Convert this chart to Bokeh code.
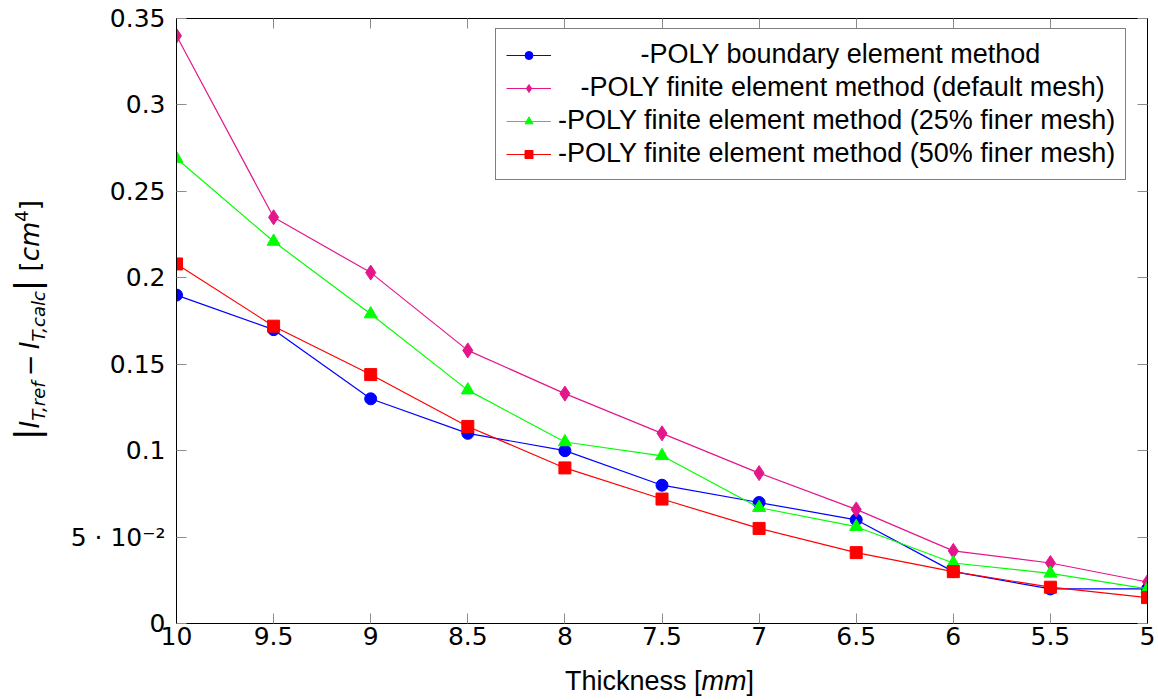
from bokeh.plotting import figure
from bokeh.models import Range1d, FixedTicker, LinearAxis, Legend, LegendItem, Div
from bokeh.layouts import row, column
from bokeh.embed import file_html
from bokeh.resources import INLINE

# ---- data -----------------------------------------------------------------
thickness = [10, 9.5, 9, 8.5, 8, 7.5, 7, 6.5, 6, 5.5, 5]
bem = [0.19, 0.17, 0.13, 0.11, 0.10, 0.08, 0.07, 0.06, 0.03, 0.02, 0.02]
fem_default = [0.34, 0.235, 0.203, 0.158, 0.133, 0.11, 0.087, 0.066, 0.042, 0.035, 0.024]
fem_25 = [0.269, 0.221, 0.179, 0.135, 0.105, 0.097, 0.067, 0.056, 0.035, 0.029, 0.020]
fem_50 = [0.208, 0.172, 0.144, 0.114, 0.090, 0.072, 0.055, 0.041, 0.030, 0.021, 0.015]

series_labels = [
    "-POLY boundary element method",
    "-POLY finite element method (default mesh)",
    "-POLY finite element method (25% finer mesh)",
    "-POLY finite element method (50% finer mesh)",
]

x_ticks = [10, 9.5, 9, 8.5, 8, 7.5, 7, 6.5, 6, 5.5, 5]
x_tick_labels = ["10", "9.5", "9", "8.5", "8", "7.5", "7", "6.5", "6", "5.5", "5"]
y_ticks = [0, 0.05, 0.1, 0.15, 0.2, 0.25, 0.3, 0.35]
y_tick_labels = ["0", "5 · 10⁻²", "0.1", "0.15", "0.2", "0.25", "0.3", "0.35"]

# ---- figure ---------------------------------------------------------------
YLAB_W = 56
PW, PH = 1101, 663
p = figure(width=PW, height=PH, output_backend="svg", toolbar_location=None,
           x_range=Range1d(10, 5), y_range=Range1d(0, 0.35),
           min_border_left=176 - YLAB_W, min_border_right=PW - (176 - YLAB_W) - 971,
           min_border_top=18, min_border_bottom=PH - 18 - 605, margin=0)
p.background_fill_color = "white"
p.border_fill_color = "white"
p.outline_line_color = "black"
p.outline_line_width = 1
p.xgrid.visible = False
p.ygrid.visible = False

TICK_FONT = "DejaVu Sans"
TICK_COLOR = "#8c8c8c"

xa = p.xaxis[0]
xa.ticker = FixedTicker(ticks=x_ticks)
xa.major_label_overrides = {t: l for t, l in zip(x_ticks, x_tick_labels)}
ya = p.yaxis[0]
ya.ticker = FixedTicker(ticks=y_ticks)
ya.major_label_overrides = {t: l for t, l in zip(y_ticks, y_tick_labels)}

for ax in (xa, ya):
    ax.major_tick_in = 10
    ax.major_tick_out = 0
    ax.major_tick_line_color = TICK_COLOR
    ax.minor_tick_line_color = None
    ax.axis_line_color = "black"
    ax.major_label_text_font = TICK_FONT
    ax.major_label_text_font_size = "25px"
    ax.major_label_text_color = "black"
xa.major_label_standoff = 3
ya.major_label_standoff = 11

# mirrored ticks on top and right (no labels)
top = LinearAxis(ticker=FixedTicker(ticks=x_ticks))
right = LinearAxis(ticker=FixedTicker(ticks=y_ticks))
for ax in (top, right):
    ax.major_tick_in = 10
    ax.major_tick_out = 0
    ax.major_tick_line_color = TICK_COLOR
    ax.minor_tick_line_color = None
    ax.axis_line_color = "black"
    ax.major_label_text_color = None
    ax.major_label_text_font_size = "1px"
    ax.major_label_standoff = 0
p.add_layout(top, "above")
p.add_layout(right, "right")

# ---- series ---------------------------------------------------------------
styles = [
    (bem, "#0000ff", "circle", 12),
    (fem_default, "#e4168c", "diamond", 15),
    (fem_25, "#00ff00", "triangle", 13),
    (fem_50, "#ff0000", "square", 12),
]
# legend texts are centred in the reference box: indent shorter entries
indent_nbsp = [11, 3, 0, 0]
items = []
for (vals, color, marker, size), lab, ind in zip(styles, series_labels, indent_nbsp):
    ln = p.line(thickness, vals, line_color=color, line_width=1.2)
    sc = p.scatter(thickness, vals, marker=marker, size=size,
                   fill_color=color, line_color=color)
    items.append(LegendItem(label="\u00a0" * ind + lab, renderers=[ln, sc]))

legend = Legend(items=items, location=(319, 443), margin=0,
                label_text_font="Liberation Sans", label_text_font_size="27px",
                label_text_color="black", glyph_width=45, glyph_height=20,
                label_standoff=7, padding=10, spacing=2,
                border_line_color="black", border_line_width=1,
                background_fill_color="white", background_fill_alpha=1.0)
p.add_layout(legend)

# ---- axis titles (HTML text with sub/superscripts) ------------------------
SUB = "font-size:18px;position:relative;top:6px"
SUP = "font-size:18px;position:relative;top:-11px;font-style:normal"
ylabel_html = (
    '<div style="width:400px;height:36px;line-height:36px;margin-top:302px;'
    'margin-left:-173px;transform:rotate(-90deg);transform-origin:50% 50%;'
    'text-align:center;white-space:nowrap;font-family:\'DejaVu Sans\';'
    'font-size:26px;color:black;">'
    '<span style="font-size:34px">|</span><i>I</i><i style="' + SUB + '">T,ref</i>'
    '&#8201;−&#8201;<i>I</i><i style="' + SUB + '">T,calc</i>'
    '<span style="font-size:34px">|</span> [<i>cm</i><span style="' + SUP + '">4</span>]'
    '</div>'
)
ylab = Div(text=ylabel_html, width=YLAB_W, height=PH, margin=0)

xlabel_html = (
    '<div style="margin-left:' + str(565 - YLAB_W) + 'px;margin-top:3px;'
    'font-family:\'Liberation Sans\';font-size:27px;line-height:30px;'
    'white-space:nowrap;color:black;">Thickness [<i>mm</i>]</div>'
)
xlab = Div(text=xlabel_html, width=PW, height=36, margin=0)

layout = row(ylab, column(p, xlab, spacing=0, margin=0), spacing=0, margin=0)

open("out.html", "w").write(file_html(layout, INLINE))
